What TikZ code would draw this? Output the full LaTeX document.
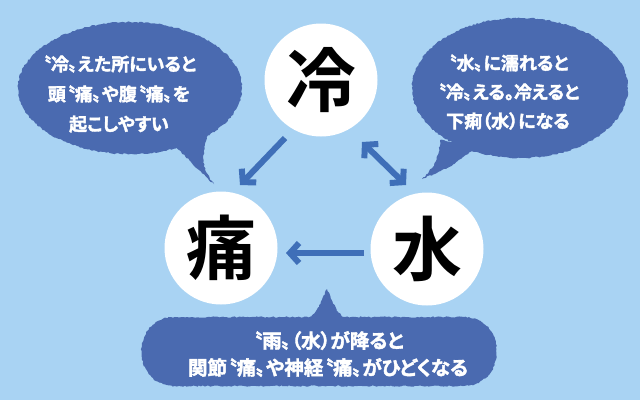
\documentclass[tikz,border=0pt]{standalone}
\usepackage{fontspec}
\newfontfamily\cjk{Noto Sans CJK JP Bold}
\newfontfamily\cjkb{Noto Sans CJK JP Bold}[FakeBold=2, RawFeature=+palt]
\usetikzlibrary{arrows.meta,decorations.pathmorphing}
\definecolor{bg}{HTML}{A9D3F3}
\definecolor{bub}{HTML}{4A6AB0}
\definecolor{arr}{HTML}{3F6FB8}
\tikzset{
  bubble/.style={fill=bub, decorate, decoration={random steps, segment length=2pt, amplitude=0.7pt}},
  bubtext/.style={text=white, font=\cjkb\fontsize{18}{30}\selectfont, align=center, inner sep=0pt},
  circ/.style={circle, fill=white, minimum size=113pt, inner sep=0pt, font=\cjk\fontsize{70}{70}\selectfont},
  arrline/.style={draw=arr, line width=6pt, -{Straight Barb[length=9pt, width=20pt, line width=6pt]}},
  darrline/.style={draw=arr, line width=6pt, {Straight Barb[length=9pt, width=20pt, line width=6pt]}-{Straight Barb[length=9pt, width=20pt, line width=6pt]}}
}
\begin{document}
\begin{tikzpicture}[x=1pt, y=-1pt]
\fill[bg] (0,0) rectangle (640,400);
\useasboundingbox (0,0) rectangle (640,400);
% left bubble
\fill[bubble] (130,88) ellipse [x radius=112, y radius=66];
\fill[bubble] (168,140) .. controls (190,160) and (200,172) .. (214,184) .. controls (203,170) and (200,160) .. (208,135) -- cycle;
% right bubble
\fill[bubble] (520,88) ellipse [x radius=108, y radius=70];
\fill[bubble] (440,140) .. controls (440,158) and (432,170) .. (422,179) .. controls (440,172) and (460,163) .. (478,145) -- cycle;
% bottom bubble
\fill[bubble] (175,317) -- (463,317) .. controls (508,317) and (508,386) .. (463,386) -- (175,386) .. controls (130,386) and (130,317) .. (175,317) -- cycle;
\fill[bubble] (306,322) .. controls (318,312) and (322,300) .. (327,289) .. controls (331,300) and (336,312) .. (348,322) -- cycle;
% circles
\node[circ] (rei) at (321,80) {冷};
\node[circ] (tsu) at (221,248) {痛};
\node[circ] (miz) at (427,249) {水};
% arrow end points
\coordinate (a1) at (285,138);
\coordinate (a2) at (240,185);
\coordinate (b1) at (362,142);
\coordinate (b2) at (406,185);
\coordinate (c1) at (364,253);
\coordinate (c2) at (286,253);
\draw[arrline] (a1) -- (a2);
\draw[darrline] (b1) -- (b2);
\draw[arrline] (c1) -- (c2);
% texts
\node[bubtext] (lt) at (119,94) {〝冷〟えた所にいると\\頭〝痛〟や腹〝痛〟を\\起こしやすい};
\node[bubtext, font=\cjkb\fontsize{18}{29}\selectfont] (rt) at (508,92) {〝水〟に濡れると\\〝冷〟える。冷えると\\下痢（水）になる};
\node[bubtext, font=\cjkb\fontsize{19.5}{27}\selectfont] (bt) at (328,354) {〝雨〟（水）が降ると\\関節〝痛〟や神経〝痛〟がひどくなる};
\end{tikzpicture}
\end{document}
